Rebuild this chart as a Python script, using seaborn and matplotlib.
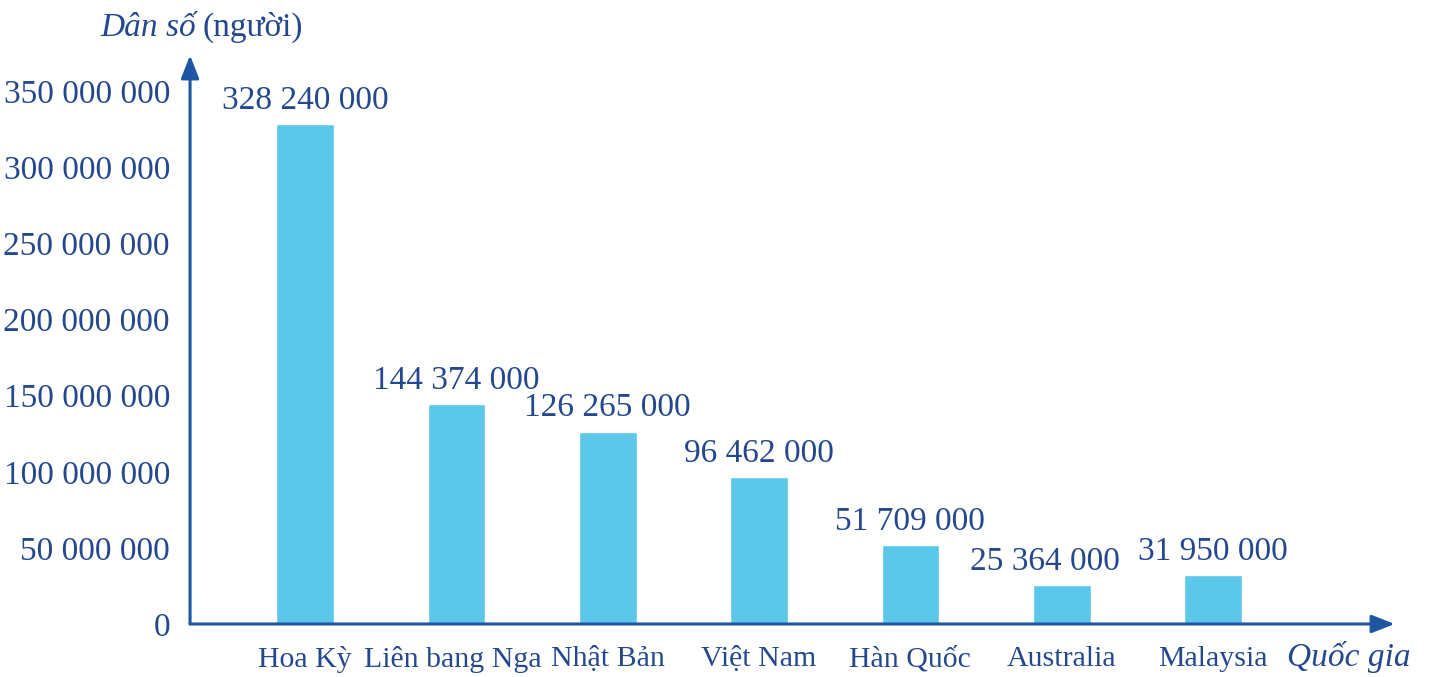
import matplotlib
matplotlib.use("Agg")
import matplotlib.pyplot as plt
import matplotlib.transforms as mtransforms
import seaborn as sns
import pandas as pd

countries = ["Hoa Kỳ", "Liên bang Nga", "Nhật Bản", "Việt Nam", "Hàn Quốc", "Australia", "Malaysia"]
population = [328240000, 144374000, 126265000, 96462000, 51709000, 25364000, 31950000]
y_ticks = [0, 50000000, 100000000, 150000000, 200000000, 250000000, 300000000, 350000000]

text_col = "#24488e"
axis_col = "#1f56a3"
bar_col = "#5bc8ea"
fs = 24

sns.set_style("white")
plt.rcParams["font.family"] = ["Liberation Serif", "DejaVu Serif"]

df = pd.DataFrame({"country": countries, "pop": population})

fig = plt.figure(figsize=(14.29, 6.77), dpi=100)
ax = fig.add_axes([0.133, 0.0783, 0.843, 0.84])
sns.barplot(data=df, x="country", y="pop", color=bar_col, width=0.38, saturation=1, ax=ax)

ax.set_xlim(-0.76, 7.2)
ax.set_ylim(0, 373.6e6)
for s in ax.spines.values():
    s.set_visible(False)

def fmt(v):
    return f"{v:,}".replace(",", " ")

ax.set_yticks(y_ticks)
ax.set_yticklabels([fmt(v) for v in y_ticks], fontsize=fs, color=text_col)
ax.tick_params(axis="y", length=17, width=1.2, color=axis_col, pad=6, direction="inout")
ax.set_xticks(range(len(countries)))
ax.set_xticklabels(countries, fontsize=21.5, color=text_col)
ax.tick_params(axis="x", length=0, pad=16)
ax.set_xlabel("")
ax.set_ylabel("")

# long label sits a bit left in the original
shift = mtransforms.ScaledTranslation(-4 / 100, 0, fig.dpi_scale_trans)
lbl = ax.get_xticklabels()[1]
lbl.set_transform(lbl.get_transform() + shift)

# value labels (Australia's nudged left so it doesn't touch Malaysia's)
for i, v in enumerate(population):
    dx = -12 if countries[i] == "Australia" else 0
    ax.annotate(fmt(v), xy=(i, v), xytext=(dx, 6), textcoords="offset points",
                ha="center", va="bottom", fontsize=fs, color=text_col)

# axis arrows
arrow = dict(arrowstyle="-|>,head_length=1.4,head_width=0.55", color=axis_col, lw=2.2, shrinkA=0, shrinkB=0)
ax.annotate("", xy=(0, 1.0), xytext=(0, 0), xycoords="axes fraction", arrowprops=arrow)
ax.annotate("", xy=(1.0, 0), xytext=(0, 0), xycoords="axes fraction", arrowprops=arrow)

# axis titles
t1 = fig.text(0.07, 0.959, "Dân số", fontsize=fs, style="italic", color=text_col, ha="left", va="center")
ax.annotate("(người)", xy=(1, 0.5), xycoords=t1, xytext=(5, 0), textcoords="offset points",
            fontsize=fs, color=text_col, ha="left", va="center")
fig.text(0.987, 0.029, "Quốc gia", fontsize=fs, style="italic", color=text_col, ha="right", va="center")

fig.savefig("out.png", dpi=100)
